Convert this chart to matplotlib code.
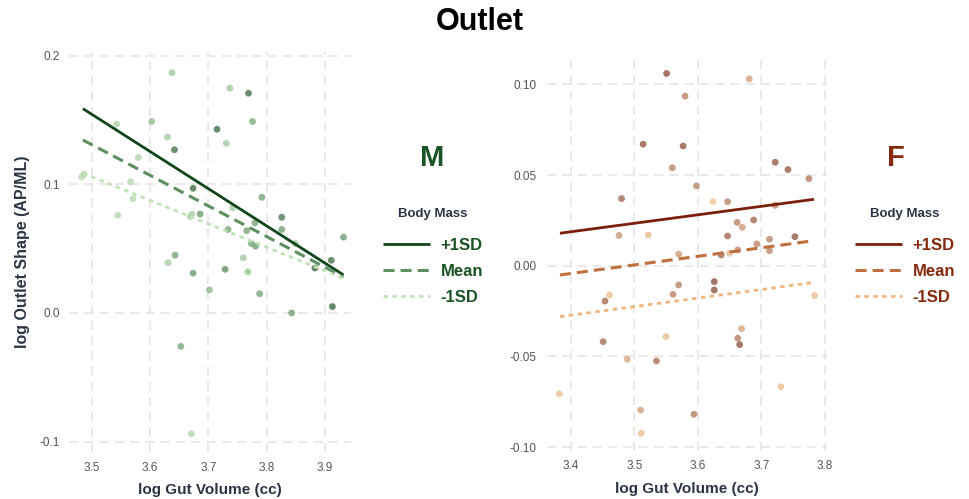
import matplotlib
matplotlib.use("Agg")
import matplotlib.pyplot as plt
from matplotlib.colors import LinearSegmentedColormap
import numpy as np

plt.rcParams['font.family'] = ['Liberation Sans', 'DejaVu Sans']

# ---- data: males (M) ----
m_x = [3.483, 3.487, 3.543, 3.545, 3.567, 3.571, 3.580, 3.603, 3.630, 3.638,
       3.642, 3.643, 3.631, 3.674, 3.672, 3.669, 3.686, 3.715, 3.731, 3.737,
       3.769, 3.776, 3.792, 3.734, 3.766, 3.774, 3.781, 3.780, 3.760, 3.742,
       3.826, 3.826, 3.849, 3.883, 3.911, 3.932, 3.674, 3.702, 3.729, 3.768,
       3.788, 3.913, 3.843, 3.653, 3.671]
m_y = [0.106, 0.108, 0.147, 0.076, 0.102, 0.089, 0.121, 0.149, 0.137, 0.187,
       0.127, 0.045, 0.039, 0.097, 0.077, 0.075, 0.077, 0.143, 0.132, 0.175,
       0.171, 0.149, 0.090, 0.065, 0.064, 0.054, 0.052, 0.070, 0.043, 0.082,
       0.0745, 0.065, 0.054, 0.035, 0.041, 0.059, 0.031, 0.018, 0.034, 0.032,
       0.015, 0.005, 0.000, -0.026, -0.094]
m_mass = [0.1, 0.1, 0.15, 0.1, 0.1, 0.1, 0.15, 0.35, 0.2, 0.25,
          0.9, 0.55, 0.2, 0.9, 0.15, 0.2, 0.6, 0.9, 0.2, 0.25,
          0.9, 0.5, 0.55, 0.55, 0.55, 0.55, 0.6, 0.55, 0.2, 0.2,
          0.85, 0.6, 0.25, 0.95, 0.9, 0.6, 0.6, 0.4, 0.7, 0.3,
          0.55, 0.95, 0.6, 0.55, 0.15]
m_line_x = [3.485, 3.932]
m_plus = [0.159, 0.0296]
m_mean = [0.1346, 0.028]
m_minus = [0.1087, 0.027]

# ---- data: females (F) ----
f_x = [3.551, 3.681, 3.580, 3.514, 3.577, 3.560, 3.598, 3.480, 3.476, 3.522,
       3.624, 3.647, 3.662, 3.670, 3.688, 3.647, 3.693, 3.713, 3.713, 3.722,
       3.722, 3.742, 3.775, 3.753, 3.637, 3.570, 3.650, 3.663, 3.570, 3.561,
       3.626, 3.626, 3.454, 3.461, 3.451, 3.489, 3.535, 3.550, 3.510, 3.511,
       3.594, 3.669, 3.663, 3.666, 3.731, 3.784, 3.382]
f_y = [0.106, 0.103, 0.0935, 0.067, 0.066, 0.054, 0.044, 0.037, 0.0167, 0.0169,
       0.0353, 0.0353, 0.0239, 0.0212, 0.0252, 0.0164, 0.012, 0.0146, 0.0083, 0.0333,
       0.057, 0.053, 0.048, 0.016, 0.0059, 0.0064, 0.0068, 0.0087, -0.0106, -0.0158,
       -0.0088, -0.0134, -0.0195, -0.0162, -0.0419, -0.0516, -0.0525, -0.0391, -0.0796, -0.0924,
       -0.0819, -0.0347, -0.040, -0.0435, -0.0667, -0.0165, -0.0707]
f_mass = [0.9, 0.35, 0.55, 0.85, 0.85, 0.55, 0.55, 0.75, 0.4, 0.15,
          0.05, 0.55, 0.55, 0.4, 0.75, 0.75, 0.55, 0.55, 0.55, 0.55,
          0.85, 0.85, 0.6, 0.85, 0.75, 0.4, 0.15, 0.55, 0.55, 0.55,
          0.9, 0.9, 0.7, 0.1, 0.7, 0.3, 0.7, 0.15, 0.35, 0.1,
          0.6, 0.3, 0.6, 0.9, 0.1, 0.1, 0.1]
f_line_x = [3.383, 3.783]
f_plus = [0.0179, 0.0366]
f_mean = [-0.0051, 0.0138]
f_minus = [-0.0281, -0.0092]

sd_labels = ['+1SD', 'Mean', '-1SD']

green_cmap = LinearSegmentedColormap.from_list('g', ['#c9e6c3', '#8db58d', '#4f7554'])
brown_cmap = LinearSegmentedColormap.from_list('b', ['#f7d3a9', '#c89a80', '#8e5a4c'])

W, H = 970, 499
fig = plt.figure(figsize=(W / 100, H / 100), dpi=100)


def px_axes(x0, y0, x1, y1):
    return fig.add_axes([x0 / W, 1 - y1 / H, (x1 - x0) / W, (y1 - y0) / H])


def style(ax, xticks, yticks, ylabels):
    ax.set_xticks(xticks)
    ax.set_yticks(yticks)
    ax.set_yticklabels(ylabels)
    for s in ax.spines.values():
        s.set_visible(False)
    ax.tick_params(length=0, labelsize=8.5, colors='#555555', pad=7)
    ax.grid(True, color='#e3e3e3', linestyle=(0, (6, 4)), linewidth=1.1)
    ax.set_axisbelow(True)
    ax.set_xlabel('log Gut Volume (cc)', fontsize=11, fontweight='bold',
                  color='#2b3445', labelpad=7)


def draw(ax, x, y, mass, cmap, lx, plus, mean, minus, colors):
    ax.scatter(x, y, c=mass, cmap=cmap, vmin=0, vmax=1, s=24, edgecolors='none',
               alpha=0.9, zorder=2)
    h1, = ax.plot(lx, plus, color=colors[0], lw=2.0, solid_capstyle='butt', zorder=3)
    h2, = ax.plot(lx, mean, color=colors[1], lw=2.2, dashes=(3.6, 2.0), zorder=3)
    h3, = ax.plot(lx, minus, color=colors[2], lw=2.0, dashes=(1.6, 1.6), zorder=3)
    return [h1, h2, h3]


m_colors = ['#11451b', '#5e8f60', '#bfe2b7']
f_colors = ['#7a1f0c', '#c0703f', '#f3b47c']

# left panel
ax1 = px_axes(69.5, 52.1, 351.1, 451.8)
hm = draw(ax1, m_x, m_y, m_mass, green_cmap, m_line_x, m_plus, m_mean, m_minus, m_colors)
ax1.set_xlim(3.462, 3.945)
ax1.set_ylim(-0.108, 0.203)
style(ax1, [3.5, 3.6, 3.7, 3.8, 3.9], [-0.1, 0.0, 0.1, 0.2], ['-0.1', '0.0', '0.1', '0.2'])
ax1.set_ylabel('log Outlet Shape (AP/ML)', fontsize=11.5, fontweight='bold',
               color='#2b3445', labelpad=7)

# right panel
ax2 = px_axes(546.6, 55.3, 827.3, 450.7)
hf = draw(ax2, f_x, f_y, f_mass, brown_cmap, f_line_x, f_plus, f_mean, f_minus, f_colors)
ax2.set_xlim(3.362, 3.804)
ax2.set_ylim(-0.102, 0.116)
style(ax2, [3.4, 3.5, 3.6, 3.7, 3.8], [-0.10, -0.05, 0.0, 0.05, 0.10],
      ['-0.10', '-0.05', '0.00', '0.05', '0.10'])

fig.text(480 / W, 1 - 22 / H, 'Outlet', ha='center', va='center',
         fontsize=22, fontweight='bold', color='black')

# side legends
for handles, sym, tcol, cx, lx in [(hm, 'M', '#1a5324', 432, 383), (hf, 'F', '#862a0f', 896, 855)]:
    fig.text(cx / W, 1 - 158 / H, sym, ha='center', va='center', fontsize=21,
             fontweight='bold', color=tcol)
    fig.text((lx + 50) / W, 1 - 214 / H, 'Body Mass', ha='center', va='center',
             fontsize=9.5, fontweight='bold', color='#2b3445')
    leg = fig.legend(handles, sd_labels, loc='upper left',
                     bbox_to_anchor=(lx / W, 1 - 238 / H), frameon=False,
                     handlelength=2.8, handletextpad=0.65,
                     labelspacing=0.65, borderaxespad=0, borderpad=0,
                     prop={'size': 12, 'weight': 'bold'})
    for t in leg.get_texts():
        t.set_color(tcol)

fig.savefig('out.png', dpi=100)
